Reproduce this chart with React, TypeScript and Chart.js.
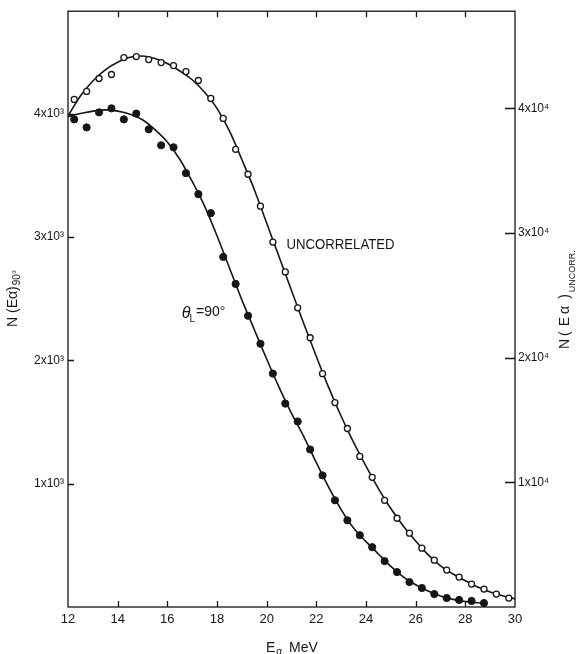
import React, { useEffect, useRef } from "react";
import { Chart, registerables } from "chart.js";

Chart.register(...registerables);

// ---- data ----
// θL = 90° (filled circles, left axis)
const energies90 = [
  12.25, 12.75, 13.25, 13.75, 14.25, 14.75, 15.25, 15.75, 16.25, 16.75, 17.25, 17.75,
  18.25, 18.75, 19.25, 19.75, 20.25, 20.75, 21.25, 21.75, 22.25, 22.75, 23.25, 23.75,
  24.25, 24.75, 25.25, 25.75, 26.25, 26.75, 27.25, 27.75, 28.25, 28.75,
];
const counts90 = [
  3953, 3888, 4010, 4042, 3953, 4000, 3872, 3743, 3727, 3517, 3347, 3193,
  2838, 2619, 2361, 2134, 1892, 1649, 1504, 1277, 1067, 865, 703, 582,
  485, 372, 283, 202, 154, 105, 73, 57, 49, 32,
];
// Uncorrelated (open circles, right axis)
const energiesUncorr = [
  12.25, 12.75, 13.25, 13.75, 14.25, 14.75, 15.25, 15.75, 16.25, 16.75, 17.25, 17.75,
  18.25, 18.75, 19.25, 19.75, 20.25, 20.75, 21.25, 21.75, 22.25, 22.75, 23.25, 23.75,
  24.25, 24.75, 25.25, 25.75, 26.25, 26.75, 27.25, 27.75, 28.25, 28.75, 29.25, 29.75,
];
const countsUncorr = [
  40720, 41360, 42400, 42720, 44080, 44160, 43920, 43680, 43440, 42960, 42240, 40800,
  39200, 36720, 34720, 32160, 29280, 26880, 24000, 21600, 18720, 16400, 14320, 12080,
  10400, 8560, 7120, 5920, 4720, 3760, 2960, 2400, 1840, 1440, 1040, 720,
];
// drawn fit curves
const fitEnergies90 = [
  12, 12.5, 13, 13.5, 14, 14.5, 15, 15.5, 16, 16.5, 17, 17.5, 18, 18.5, 19, 19.5, 20,
  20.5, 21, 21.5, 22, 22.5, 23, 23.5, 24, 24.5, 25, 25.5, 26, 26.5, 27, 27.5, 28, 28.75,
];
const fitCounts90 = [
  3975, 4000, 4020, 4030, 4020, 3995, 3950, 3870, 3770, 3630, 3450, 3250, 3010, 2750,
  2490, 2250, 2010, 1780, 1570, 1380, 1170, 970, 790, 640, 530, 430, 330, 245, 180, 130,
  90, 62, 45, 30,
];
const fitEnergiesUncorr = [
  12, 12.5, 13, 13.5, 14, 14.5, 15, 15.5, 16, 16.5, 17, 17.5, 18, 18.5, 19, 19.5, 20,
  20.5, 21, 21.5, 22, 22.5, 23, 23.5, 24, 24.5, 25, 25.5, 26, 26.5, 27, 27.5, 28, 28.5,
  29, 29.5, 30,
];
const fitCountsUncorr = [
  39400, 41000, 42200, 43100, 43700, 44100, 44200, 44000, 43600, 43000, 42300, 41300,
  40000, 38200, 35900, 33500, 30800, 28100, 25400, 22700, 20100, 17600, 15300, 13200,
  11300, 9500, 7900, 6500, 5300, 4200, 3300, 2650, 2100, 1600, 1200, 900, 650,
];

const xTicks = [12, 14, 16, 18, 20, 22, 24, 26, 28, 30];
const leftTicks = [1000, 2000, 3000, 4000];
const rightTicks = [10000, 20000, 30000, 40000];

const FONT = '"Liberation Sans", Arial, sans-serif';
const INK = "#161616";

type Part = { t: string; size: number; dy?: number; gap?: number; style?: string };

function drawRich(ctx: CanvasRenderingContext2D, parts: Part[], x: number, y: number, angle: number, hScale = 1) {
  ctx.save();
  ctx.translate(x, y);
  ctx.rotate(angle);
  ctx.scale(hScale, 1);
  ctx.fillStyle = INK;
  ctx.textBaseline = "alphabetic";
  ctx.textAlign = "left";
  let cx = 0;
  for (const p of parts) {
    ctx.font = `${p.style || ""} ${p.size}px ${FONT}`;
    ctx.fillText(p.t, cx, p.dy || 0);
    cx += ctx.measureText(p.t).width + (p.gap || 0);
  }
  ctx.restore();
}

const decorPlugin = {
  id: "decor",
  afterDraw(chart: any) {
    const { ctx, chartArea: ca, scales } = chart;
    const sx = scales.x, sy = scales.y, sy2 = scales.y2;
    ctx.save();
    ctx.strokeStyle = INK;
    ctx.lineWidth = 1.3;
    ctx.strokeRect(ca.left, ca.top, ca.right - ca.left, ca.bottom - ca.top);
    ctx.beginPath();
    for (const v of xTicks) {
      if (v === sx.min || v === sx.max) continue;
      const px = Math.round(sx.getPixelForValue(v)) + 0.5;
      ctx.moveTo(px, ca.bottom);
      ctx.lineTo(px, ca.bottom - 6);
      ctx.moveTo(px, ca.top);
      ctx.lineTo(px, ca.top + 6);
    }
    for (const v of leftTicks) {
      const py = Math.round(sy.getPixelForValue(v)) + 0.5;
      ctx.moveTo(ca.left, py);
      ctx.lineTo(ca.left + 6, py);
    }
    for (const v of rightTicks) {
      const py = Math.round(sy2.getPixelForValue(v)) + 0.5;
      ctx.moveTo(ca.right, py);
      ctx.lineTo(ca.right - 10, py);
    }
    ctx.stroke();
    ctx.restore();

    // annotations in data coordinates
    drawRich(ctx, [{ t: "UNCORRELATED", size: 14 }],
      sx.getPixelForValue(20.8), sy.getPixelForValue(2902), 0, 0.94);
    drawRich(ctx, [
      { t: "θ", size: 16, style: "italic", gap: -1 },
      { t: "L", size: 10, dy: 4, gap: 1 },
      { t: "=90°", size: 14, dy: -2 },
    ], sx.getPixelForValue(16.58), sy.getPixelForValue(2344), 0);

    // axis titles
    drawRich(ctx, [
      { t: "N (E", size: 14 },
      { t: "α", size: 14 },
      { t: ")", size: 14, gap: 1 },
      { t: "90°", size: 10, dy: 3 },
    ], 17, 327, -Math.PI / 2);
    drawRich(ctx, [
      { t: "N", size: 14, gap: 3 },
      { t: "(", size: 14, gap: 5 },
      { t: "E", size: 14, gap: 3 },
      { t: "α", size: 14, gap: 7 },
      { t: ")", size: 14, gap: 2 },
      { t: "UNCORR.", size: 9, dy: 6 },
    ], 569, 349, -Math.PI / 2);
    drawRich(ctx, [
      { t: "E", size: 14, gap: 1 },
      { t: "α", size: 10, dy: 3, gap: 7 },
      { t: "MeV", size: 14 },
    ], 266, 652, 0);
  },
};

export default function App() {
  const ref = useRef<HTMLCanvasElement | null>(null);
  useEffect(() => {
    if (!ref.current) return;
    const toXY = (xs: number[], ys: number[]) => xs.map((x, i) => ({ x, y: ys[i] }));
    const chart = new Chart(ref.current, {
      type: "scatter",
      data: {
        datasets: [
          {
            label: "fit90",
            data: toXY(fitEnergies90, fitCounts90),
            yAxisID: "y",
            showLine: true,
            pointRadius: 0,
            borderColor: INK,
            borderWidth: 1.6,
            cubicInterpolationMode: "monotone",
            order: 3,
          } as any,
          {
            label: "fitUncorr",
            data: toXY(fitEnergiesUncorr, fitCountsUncorr),
            yAxisID: "y2",
            showLine: true,
            pointRadius: 0,
            borderColor: INK,
            borderWidth: 1.6,
            cubicInterpolationMode: "monotone",
            order: 3,
          } as any,
          {
            label: "θL=90°",
            data: toXY(energies90, counts90),
            yAxisID: "y",
            pointRadius: 3.6,
            backgroundColor: INK,
            borderColor: INK,
            borderWidth: 1,
            order: 1,
          },
          {
            label: "UNCORRELATED",
            data: toXY(energiesUncorr, countsUncorr),
            yAxisID: "y2",
            pointRadius: 3,
            backgroundColor: "#ffffff",
            borderColor: INK,
            borderWidth: 1.3,
            order: 1,
          },
        ],
      },
      options: {
        animation: false,
        responsive: false,
        maintainAspectRatio: false,
        layout: { padding: { top: 10, left: 0, right: 0, bottom: 0 } },
        plugins: { legend: { display: false }, tooltip: { enabled: false } },
        scales: {
          x: {
            type: "linear",
            min: 12,
            max: 30,
            afterBuildTicks: (s: any) => { s.ticks = xTicks.map((v) => ({ value: v })); },
            ticks: { color: INK, font: { family: FONT, size: 13 }, padding: 5, maxRotation: 0 },
            grid: { display: false, drawTicks: false },
            border: { display: false },
            afterFit: (s: any) => { s.height = 47; },
          },
          y: {
            type: "linear",
            position: "left",
            min: 0,
            max: 4830,
            afterBuildTicks: (s: any) => { s.ticks = leftTicks.map((v) => ({ value: v })); },
            ticks: {
              color: INK,
              font: { family: FONT, size: 12 },
              padding: 4,
              callback: (v: any) => `${Number(v) / 1000}x10³`,
            },
            grid: { display: false, drawTicks: false },
            border: { display: false },
            afterFit: (s: any) => { s.width = 68; },
          },
          y2: {
            type: "linear",
            position: "right",
            min: 0,
            max: 47800,
            afterBuildTicks: (s: any) => { s.ticks = rightTicks.map((v) => ({ value: v })); },
            ticks: {
              color: INK,
              font: { family: FONT, size: 12 },
              padding: 3,
              callback: (v: any) => `${Number(v) / 10000}x10⁴`,
            },
            grid: { display: false, drawTicks: false },
            border: { display: false },
            afterFit: (s: any) => { s.width = 61; },
          },
        },
      },
      plugins: [decorPlugin],
    });
    return () => chart.destroy();
  }, []);
  return (
    <div style={{ position: "absolute", left: 0, top: 0, width: 576, height: 654, background: "#fff" }}>
      <canvas ref={ref} width={576} height={654} style={{ display: "block", width: 576, height: 654 }} />
    </div>
  );
}
